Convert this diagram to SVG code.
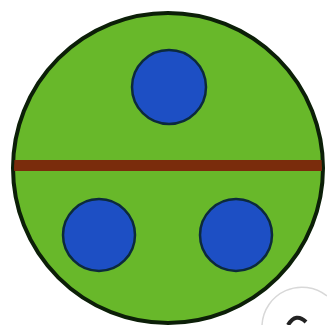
<svg xmlns="http://www.w3.org/2000/svg" width="327" height="325" viewBox="0 0 327 325">
<defs>
<style>
.dot{fill:#1d4fc4;stroke:#0c2a3c;stroke-width:2.5}
</style>
<clipPath id="c"><circle cx="168" cy="168" r="154"/></clipPath>
</defs>
<rect width="327" height="325" fill="#ffffff"/>
<path d="M262 325 A40 40 0 0 1 327 296" fill="none" stroke="#d8d8d8" stroke-width="1.5"/>
<path d="M288 325 Q296 312 306 322" fill="none" stroke="#222" stroke-width="4"/>
<g id="disc">
<circle cx="168" cy="168" r="155" fill="#68b82a" stroke="#0c1f08" stroke-width="4"/>
<rect x="10" y="160" width="320" height="11" fill="#7a2c0c" clip-path="url(#c)"/>
</g>
<g id="dot-top"><circle class="dot" cx="169" cy="87" r="37"/></g>
<g id="dot-left"><circle class="dot" cx="99" cy="235" r="36"/></g>
<g id="dot-right"><circle class="dot" cx="236" cy="235" r="36"/></g>
</svg>
